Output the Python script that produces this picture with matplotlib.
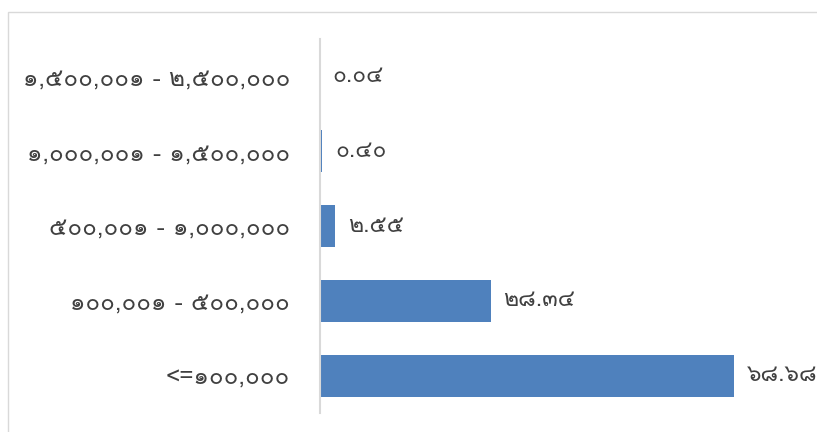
import matplotlib
matplotlib.use('Agg')
import matplotlib.pyplot as plt
from matplotlib import font_manager
from matplotlib.ft2font import FT2Font
from matplotlib.patches import Rectangle

# data (top to bottom in the picture)
categories = ['๑,๕๐๐,๐๐๑ - ๒,๕๐๐,๐๐๐', '๑,๐๐๐,๐๐๑ - ๑,๕๐๐,๐๐๐',
              '๕๐๐,๐๐๑ - ๑,๐๐๐,๐๐๐', '๑๐๐,๐๐๑ - ๕๐๐,๐๐๐', '<=๑๐๐,๐๐๐']
values = [0.04, 0.40, 2.55, 28.34, 68.68]
value_labels = ['๐.๐๔', '๐.๔๐', '๒.๕๕', '๒๘.๓๔', '๖๘.๖๘']

# find an installed font that has Thai digits
thai_family = None
for f in font_manager.fontManager.ttflist:
    try:
        cmap = FT2Font(f.fname).get_charmap()
    except Exception:
        continue
    if 0x0E51 in cmap and 0x0E58 in cmap:
        thai_family = f.name
        break
families = ([thai_family] if thai_family else []) + ['DejaVu Sans']
plt.rcParams['font.family'] = families

fig = plt.figure(figsize=(8.17, 4.32), dpi=100)
W, H = 817, 432

# light frame of the original chart area (cut off at right/bottom)
fig.patches.append(Rectangle((8 / W, -0.1), 1.2, (H - 12) / H + 0.1,
                             transform=fig.transFigure, fill=False,
                             edgecolor='#d9d9d9', linewidth=1))

ax = fig.add_axes([320 / W, 1 - 413 / H, (734 - 320) / W * 80 / 68.68, (413 - 39) / H])
ypos = list(range(len(categories)))[::-1]
ax.barh(ypos, values, height=0.56, color='#4f81bd')
ax.set_xlim(0, 80)
ax.set_ylim(-0.5, 4.5)
ax.set_yticks(ypos)
ax.set_yticklabels(categories, fontsize=17.5, color='#404040')
ax.tick_params(axis='y', length=0, pad=21.5)
ax.set_xticks([])
for s in ['top', 'right', 'bottom']:
    ax.spines[s].set_visible(False)
ax.spines['left'].set_color('#d9d9d9')
ax.spines['left'].set_linewidth(1.5)

for y, v, lab in zip(ypos, values, value_labels):
    ax.annotate(lab, (v, y), xytext=(9, 0), textcoords='offset points',
                va='center', ha='left', fontsize=16.5, color='#404040',
                annotation_clip=False)

fig.savefig('out.png', dpi=100)
